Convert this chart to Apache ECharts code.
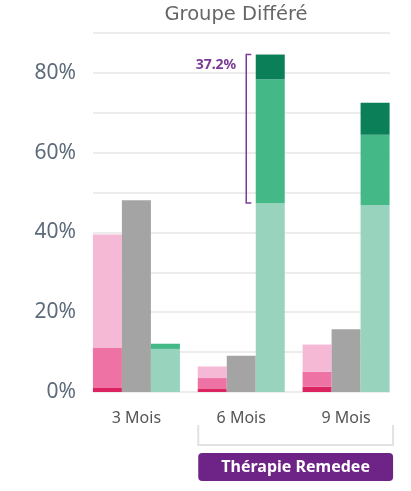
<!DOCTYPE html>
<html>
<head>
<meta charset="utf-8">
<script src="https://cdn.jsdelivr.net/npm/echarts@6/dist/echarts.min.js"></script>
<style>html,body{margin:0;padding:0;background:#fff;}#c{width:411px;height:491px;}</style>
</head>
<body>
<div id="c"></div>
<script>
var categories = ['3 Mois', '6 Mois', '9 Mois'];
var pinkDark  = [1.0, 0.9, 1.3];
var pinkMid   = [10.0, 2.6, 3.8];
var pinkLight = [28.5, 2.9, 6.8];
var grayVals  = [48.1, 9.1, 15.7];
var greenLight = [10.8, 47.4, 46.8];
var greenMid   = [1.3, 31.0, 17.7];
var greenDark  = [0, 6.2, 8.0];
var yTicks = [0, 20, 40, 60, 80];
var bracketLabel = '37.2%';
var groupLabel = 'Thérapie Remedee';
var titleText = 'Groupe Différé';

var FONT = 'Noto Sans';
var TOP = 33, BOTTOM = 99, YMAX = 90;

function bar(name, data, stack, color) {
  return { name: name, type: 'bar', data: data, stack: stack, barWidth: 29, barGap: '0%',
    xAxisIndex: 0, yAxisIndex: 0, itemStyle: { color: color }, emphasis: { disabled: true } };
}

var chart = echarts.init(document.getElementById('c'));
chart.setOption({
  animation: false,
  title: { text: titleText, left: 231, top: 0, textAlign: 'center',
    textStyle: { fontFamily: 'DejaVu Sans', fontSize: 19.5, fontWeight: 'normal', color: '#666' } },
  grid: [
    { left: 84, right: 12.5, top: TOP, bottom: BOTTOM },
    { left: 93, right: 21, top: TOP, bottom: BOTTOM }
  ],
  xAxis: [
    { type: 'category', gridIndex: 0, data: categories,
      axisLine: { show: false }, axisTick: { show: false },
      axisLabel: { margin: 18, fontFamily: FONT, fontSize: 16, color: '#555' } },
    { type: 'value', gridIndex: 1, show: false }
  ],
  yAxis: [
    { type: 'value', gridIndex: 0, min: 0, max: YMAX, show: false, splitLine: { show: false } },
    { type: 'value', gridIndex: 1, min: 0, max: YMAX, interval: 10,
      axisLine: { show: false }, axisTick: { show: false },
      splitLine: { show: true, lineStyle: { color: '#ececec', width: 2 } },
      axisLabel: { margin: 17, fontFamily: FONT, fontSize: 21, color: '#5d6b7b',
        formatter: function (v) { return yTicks.indexOf(v) >= 0 ? v + '%' : ''; } } }
  ],
  series: [
    bar('pd', pinkDark, 'pink', '#dc2461'),
    bar('pm', pinkMid, 'pink', '#ee72a4'),
    bar('pl', pinkLight, 'pink', '#f5b9d6'),
    bar('g', grayVals, 'gray', '#a4a4a4'),
    bar('gl', greenLight, 'green', '#98d3be'),
    bar('gm', greenMid, 'green', '#45b888'),
    bar('gd', greenDark, 'green', '#0b7f58')
  ]
});

function px(cat, v) { return chart.convertToPixel({ xAxisIndex: 0, yAxisIndex: 0 }, [cat, v]); }
var lo = greenLight[1];
var hi = greenLight[1] + greenMid[1] + greenDark[1];
var pTop = px(categories[1], hi), pBot = px(categories[1], lo);
var bx = pTop[0] + 5;
var c6 = px(categories[1], 0), c9 = px(categories[2], 0);
var gx1 = c6[0] - 43, gx2 = c9[0] + 47;
chart.setOption({
  graphic: [
    { type: 'polyline', shape: { points: [[bx + 5, pTop[1]], [bx, pTop[1]], [bx, pBot[1]], [bx + 5, pBot[1]]] },
      style: { stroke: '#7b3a96', lineWidth: 1.5, fill: null }, z: 10 },
    { type: 'text', x: bx - 10, y: pTop[1] + 10,
      style: { text: bracketLabel, fill: '#7b3a96', font: 'bold 14px "' + FONT + '"', align: 'right', verticalAlign: 'middle' }, z: 10 },
    { type: 'polyline', shape: { points: [[gx1, 425], [gx1, 445], [gx2, 445], [gx2, 425]] },
      style: { stroke: '#e2e2e2', lineWidth: 2, fill: null } },
    { type: 'rect', shape: { x: gx1, y: 453, width: gx2 - gx1, height: 28, r: 4 },
      style: { fill: '#6d2486' } },
    { type: 'text', x: (gx1 + gx2) / 2, y: 467,
      style: { text: groupLabel, fill: '#fff', font: 'bold 16px "' + FONT + '"', align: 'center', verticalAlign: 'middle' } }
  ]
});
</script>
</body>
</html>
